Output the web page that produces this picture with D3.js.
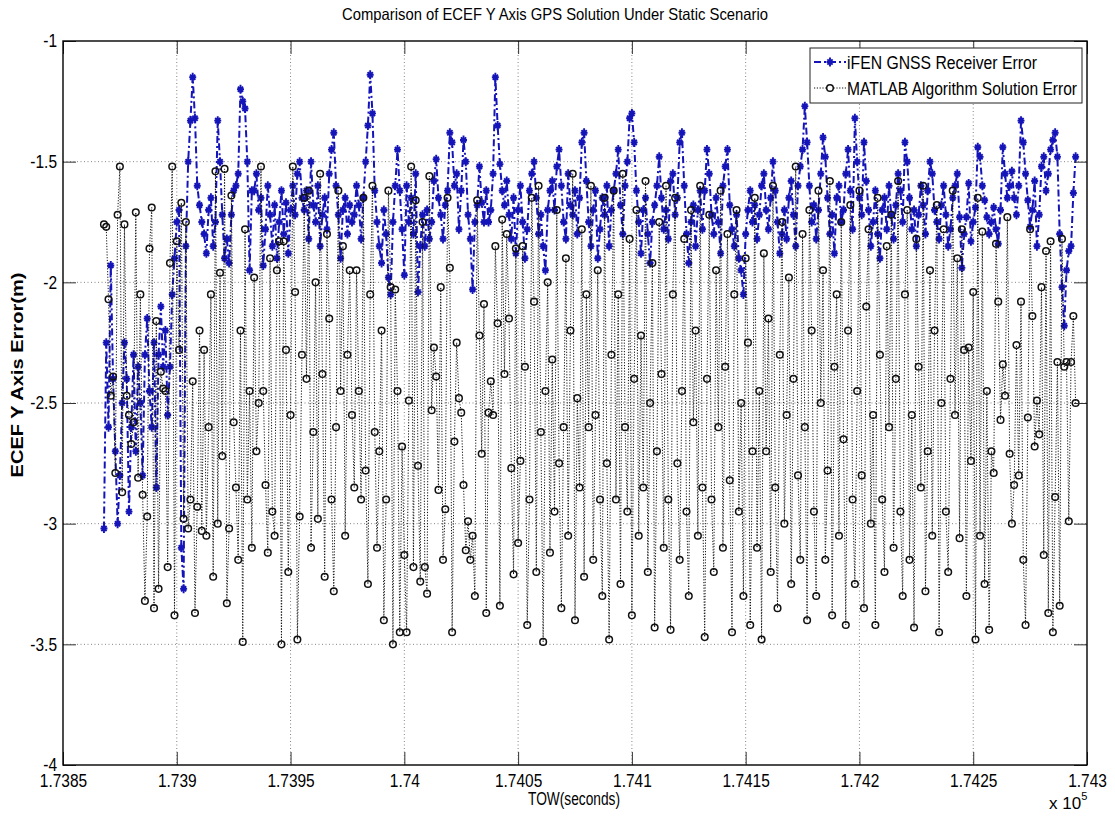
<!DOCTYPE html>
<html>
<head>
<meta charset="utf-8">
<script src="https://cdn.jsdelivr.net/npm/d3@7"></script>
<style>
body { margin: 0; background: #fff; }
text { font-family: "Liberation Sans", Arial, sans-serif; fill: #000; }
</style>
</head>
<body>
<div id="chart"></div>
<script>
// first sample TOW, one solution per second
var startTOW = 173868;
var xTicks = [173850, 173900, 173950, 174000, 174050, 174100, 174150, 174200, 174250, 174300];
var yTicks = [-4, -3.5, -3, -2.5, -2, -1.5, -1];
var seriesNames = ["iFEN GNSS Receiver Error", "MATLAB Algorithm Solution Error"];

// iFEN receiver error (m)
var ifenErr = [
  -3.02,-2.25,-2.6,-1.93,-2.4,-2.7,-3.0,-2.8,-2.5,-2.25,-2.4,-2.95,-2.6,-2.3,-2.7,-2.35,-2.5,-2.8,-2.3,-2.15,-2.45,-2.6,
  -2.25,-2.85,-2.3,-2.1,-2.35,-2.2,-2.55,-2.35,-2.05,-1.9,-1.75,-1.7,-3.1,-3.27,-1.85,-1.5,-1.33,-1.15,-1.32,-1.6,-1.68,-1.75,
  -1.8,-1.88,-1.7,-1.65,-1.85,-1.75,-1.33,-1.5,-1.72,-1.9,-1.82,-1.92,-1.72,-1.62,-1.6,-1.55,-1.2,-1.25,-1.28,-1.5,-1.95,-1.62,
  -1.62,-1.55,-1.7,-1.65,-1.93,-1.78,-1.6,-1.72,-1.85,-1.68,-1.9,-1.75,-1.62,-1.8,-1.67,-1.88,-1.7,-1.6,-1.72,-1.55,-1.5,-1.65,
  -1.7,-1.62,-1.82,-1.5,-1.68,-1.75,-1.6,-1.85,-1.72,-1.65,-1.78,-1.55,-1.45,-1.38,-1.6,-1.72,-1.9,-1.7,-1.65,-1.8,-1.68,-1.75,
  -1.72,-1.6,-1.68,-1.82,-1.65,-1.5,-1.35,-1.14,-1.3,-1.62,-1.75,-1.85,-1.92,-1.7,-1.8,-1.98,-2.05,-1.75,-1.6,-1.45,-1.62,-1.78,
  -1.97,-1.6,-1.75,-1.65,-1.8,-1.55,-2.04,-1.85,-1.72,-1.85,-1.7,-1.82,-1.75,-1.58,-1.49,-1.65,-1.72,-1.82,-1.68,-1.62,-1.38,-1.42,
  -1.6,-1.55,-1.78,-1.62,-1.41,-1.5,-1.72,-1.82,-2.03,-1.75,-1.68,-1.52,-1.67,-1.75,-1.62,-1.75,-1.7,-1.55,-1.15,-1.35,-1.51,-1.62,
  -1.68,-1.58,-1.72,-1.82,-1.65,-1.88,-1.7,-1.6,-1.75,-1.9,-1.78,-1.62,-1.55,-1.5,-1.65,-1.8,-1.72,-1.85,-1.95,-1.7,-1.62,-1.58,
  -1.7,-1.52,-1.45,-1.6,-1.75,-1.82,-1.55,-1.68,-1.72,-1.62,-1.8,-1.65,-1.42,-1.38,-1.58,-1.75,-1.85,-1.7,-1.62,-1.9,-1.78,-1.65,
  -1.72,-1.6,-1.85,-1.7,-1.62,-1.55,-1.45,-1.68,-1.8,-1.6,-1.5,-1.32,-1.3,-1.42,-1.62,-1.75,-1.88,-1.7,-1.65,-1.8,-1.92,-1.75,
  -1.68,-1.6,-1.48,-1.65,-1.78,-1.7,-1.82,-1.58,-1.55,-1.72,-1.65,-1.42,-1.38,-1.6,-1.8,-1.92,-1.75,-1.68,-1.85,-1.7,-1.62,-1.78,
  -1.62,-1.45,-1.55,-1.72,-1.8,-1.65,-1.75,-1.88,-1.6,-1.52,-1.45,-1.68,-1.78,-1.85,-1.72,-1.9,-1.95,-2.05,-1.8,-1.7,-1.62,-1.75,
  -1.68,-1.82,-1.72,-1.6,-1.55,-1.7,-1.78,-1.65,-1.5,-1.62,-1.75,-1.88,-1.8,-1.7,-1.82,-1.65,-1.58,-1.72,-1.85,-1.6,-1.52,-1.45,
  -1.27,-1.42,-1.6,-1.75,-1.68,-1.82,-1.7,-1.55,-1.4,-1.48,-1.65,-1.8,-1.72,-1.88,-1.65,-1.6,-1.75,-1.7,-1.55,-1.45,-1.62,-1.78,
  -1.32,-1.5,-1.65,-1.72,-1.42,-1.58,-1.7,-1.85,-1.75,-1.62,-1.8,-1.9,-1.7,-1.65,-1.78,-1.6,-1.72,-1.82,-1.68,-1.55,-1.62,-1.75,
  -1.42,-1.5,-1.65,-1.78,-1.7,-1.85,-1.72,-1.6,-1.68,-1.8,-1.62,-1.5,-1.55,-1.7,-1.75,-1.82,-1.68,-1.6,-1.72,-1.85,-1.78,-1.65,
  -1.6,-1.55,-1.73,-1.94,-1.8,-1.73,-1.59,-1.83,-1.75,-1.69,-1.44,-1.48,-1.6,-1.66,-1.73,-1.8,-1.75,-1.69,-1.78,-1.84,-1.7,-1.44,
  -1.55,-1.65,-1.6,-1.54,-1.65,-1.72,-1.6,-1.33,-1.42,-1.55,-1.66,-1.77,-1.7,-1.58,-1.85,-1.72,-1.52,-1.48,-1.62,-1.55,-1.45,-1.41,
  -1.38,-1.48,-1.8,-2.02,-2.18,-1.95,-1.87,-1.85,-1.63,-1.48
];

// MATLAB algorithm solution error (m)
var matlabErr = [
  -1.76,-1.77,-2.07,-2.47,-2.39,-2.79,-1.72,-1.52,-2.87,-1.76,-2.47,-2.55,-2.67,-2.58,-1.71,-2.81,-2.05,-2.88,-3.32,-2.97,-1.86,-1.69,
  -3.35,-2.16,-3.27,-2.37,-2.44,-2.45,-3.18,-1.92,-1.52,-3.38,-1.83,-2.28,-1.67,-2.98,-1.75,-3.02,-2.9,-2.41,-3.37,-2.93,-2.2,-3.03,
  -2.28,-3.05,-2.6,-2.05,-3.22,-1.54,-3.0,-1.96,-2.72,-1.53,-3.33,-3.02,-1.64,-2.58,-2.85,-3.15,-2.2,-3.49,-1.78,-2.9,-2.45,-3.1,
  -1.98,-2.7,-2.5,-1.52,-2.45,-2.84,-3.12,-1.9,-2.95,-3.05,-1.95,-1.83,-3.5,-1.83,-2.28,-3.2,-2.55,-1.52,-2.04,-3.48,-2.97,-2.3,
  -1.65,-2.4,-1.62,-3.1,-2.62,-2.0,-2.98,-1.55,-2.38,-3.22,-1.8,-2.15,-2.9,-3.28,-2.6,-1.62,-2.45,-1.85,-3.05,-2.3,-1.95,-2.55,
  -2.85,-1.95,-2.45,-2.9,-1.65,-2.78,-3.25,-2.05,-1.6,-2.62,-3.1,-2.7,-2.2,-3.4,-2.9,-1.62,-2.02,-3.5,-2.03,-2.45,-3.45,-2.68,
  -3.13,-3.45,-2.49,-1.52,-3.18,-1.66,-2.76,-3.24,-1.75,-3.18,-3.29,-1.56,-2.53,-2.27,-2.39,-2.86,-2.02,-3.15,-2.94,-1.65,-1.94,-3.45,
  -2.66,-2.25,-2.48,-2.54,-2.84,-3.11,-2.99,-3.15,-3.05,-3.3,-1.66,-2.22,-2.71,-2.09,-3.37,-2.54,-2.41,-2.55,-1.85,-2.17,-3.34,-1.74,
  -2.38,-1.8,-2.15,-2.77,-3.21,-1.86,-3.08,-2.74,-1.85,-2.35,-3.42,-2.9,-1.65,-2.08,-3.2,-1.6,-2.62,-3.49,-2.45,-2.0,-3.12,-2.32,
  -2.95,-1.7,-2.75,-3.35,-2.6,-1.9,-3.05,-2.2,-1.55,-3.4,-2.48,-2.85,-1.78,-3.22,-2.05,-2.6,-1.6,-3.15,-2.55,-1.95,-2.9,-3.3,
  -1.65,-2.75,-3.48,-2.3,-1.62,-2.9,-2.05,-3.25,-1.55,-2.6,-2.95,-1.82,-3.38,-2.4,-1.7,-3.05,-2.22,-2.85,-1.58,-3.2,-2.5,-1.92,
  -3.43,-2.7,-1.75,-2.38,-3.1,-1.6,-2.9,-3.44,-2.05,-1.65,-2.75,-3.15,-2.45,-1.82,-2.95,-3.3,-1.7,-2.58,-2.2,-3.05,-1.6,-2.85,
  -3.47,-2.4,-1.72,-2.9,-3.2,-1.95,-2.6,-1.62,-3.1,-2.35,-1.8,-2.82,-3.45,-2.05,-1.7,-2.95,-2.5,-3.3,-1.9,-2.25,-3.42,-2.7,
  -1.65,-3.1,-2.45,-3.48,-1.88,-2.7,-2.15,-3.2,-1.6,-2.85,-3.35,-2.3,-1.75,-3.0,-2.55,-1.98,-3.25,-2.4,-1.52,-2.8,-3.15,-1.8,
  -2.6,-3.4,-1.7,-2.2,-2.95,-3.3,-1.62,-2.5,-1.95,-3.15,-2.78,-1.58,-3.38,-2.35,-2.05,-3.05,-1.75,-2.65,-3.42,-2.2,-1.68,-2.9,
  -3.25,-2.45,-1.62,-2.8,-3.35,-2.1,-1.78,-3.0,-2.55,-3.42,-1.65,-2.3,-2.9,-3.2,-1.85,-2.6,-1.72,-3.1,-2.4,-1.58,-2.95,-3.3,
  -2.05,-1.7,-3.15,-2.55,-3.43,-1.82,-2.35,-2.85,-1.6,-3.28,-2.7,-1.95,-3.05,-2.2,-1.68,-3.45,-2.5,-1.78,-2.95,-3.2,-2.4,-1.62,
  -2.55,-1.9,-3.06,-1.78,-2.28,-3.3,-2.27,-2.74,-2.04,-3.48,-1.65,-3.05,-1.79,-3.25,-2.45,-3.44,-2.7,-2.79,-1.84,-2.08,-2.57,-2.34,
  -2.47,-1.73,-2.71,-3.0,-2.84,-2.26,-2.8,-2.08,-3.15,-3.42,-2.56,-1.78,-2.14,-2.68,-2.49,-2.63,-2.02,-3.13,-1.87,-3.37,-1.83,-3.45,
  -2.89,-2.33,-3.34,-1.82,-2.35,-2.33,-2.99,-2.33,-2.14,-2.5
];

var margin = {top: 41, right: 28, bottom: 57, left: 63},
    width = 1115 - margin.left - margin.right,
    height = 822 - margin.top - margin.bottom;

var blue = "#1414b8";

var svgRoot = d3.select("#chart")
  .append("svg")
    .attr("width", 1115)
    .attr("height", 822)
    .style("background", "#fff");

var svg = svgRoot.append("g")
    .attr("transform", "translate(" + margin.left + "," + margin.top + ")");

var x = d3.scaleLinear()
  .domain([xTicks[0], xTicks[xTicks.length - 1]])
  .range([0, width]);

var y = d3.scaleLinear()
  .domain([yTicks[0], yTicks[yTicks.length - 1]])
  .range([height, 0]);

var ifenData = ifenErr.map(function(v, i) { return {t: startTOW + i, v: v}; });
var matlabData = matlabErr.map(function(v, i) { return {t: startTOW + i, v: v}; });

// squeeze text a bit, the original font is narrow
function squeeze(sel, k) {
  sel.each(function() {
    var w = this.getComputedTextLength();
    d3.select(this).attr("textLength", w * k).attr("lengthAdjust", "spacingAndGlyphs");
  });
}
function fitTo(sel, w) {
  sel.attr("textLength", w).attr("lengthAdjust", "spacingAndGlyphs");
}

// grid
svg.append("g")
  .selectAll("line")
  .data(xTicks.slice(1, -1))
  .enter().append("line")
    .attr("x1", function(d) { return x(d); })
    .attr("x2", function(d) { return x(d); })
    .attr("y1", 0)
    .attr("y2", height)
    .attr("stroke", "#777")
    .attr("stroke-width", 0.9)
    .attr("stroke-dasharray", "1,2.5");

svg.append("g")
  .selectAll("line")
  .data(yTicks.slice(1, -1))
  .enter().append("line")
    .attr("y1", function(d) { return y(d); })
    .attr("y2", function(d) { return y(d); })
    .attr("x1", 0)
    .attr("x2", width)
    .attr("stroke", "#777")
    .attr("stroke-width", 0.9)
    .attr("stroke-dasharray", "1,2.5");

var line = d3.line()
  .x(function(d) { return x(d.t); })
  .y(function(d) { return y(d.v); });

var starPath = "M-3.5,0H3.5M0,-4.5V4.5M-2.6,-2.6L2.6,2.6M-2.6,2.6L2.6,-2.6";

// iFEN series
svg.append("path")
  .datum(ifenData)
  .attr("fill", "none")
  .attr("stroke", blue)
  .attr("stroke-width", 2)
  .attr("stroke-dasharray", "7,3,2,3")
  .attr("d", line);

svg.append("g")
  .selectAll("path")
  .data(ifenData)
  .enter().append("path")
    .attr("transform", function(d) { return "translate(" + x(d.t) + "," + y(d.v) + ")"; })
    .attr("d", starPath)
    .attr("stroke", blue)
    .attr("stroke-width", 1.9)
    .attr("fill", "none");

// MATLAB series
svg.append("path")
  .datum(matlabData)
  .attr("fill", "none")
  .attr("stroke", "#111")
  .attr("stroke-width", 1)
  .attr("stroke-dasharray", "1.2,1.6")
  .attr("d", line);

svg.append("g")
  .selectAll("circle")
  .data(matlabData)
  .enter().append("circle")
    .attr("cx", function(d) { return x(d.t); })
    .attr("cy", function(d) { return y(d.v); })
    .attr("r", 3.3)
    .attr("fill", "none")
    .attr("stroke", "#111")
    .attr("stroke-width", 1.5);

// axes: ticks inside on all four sides
var xAxis = svg.append("g")
  .attr("transform", "translate(0," + height + ")")
  .call(d3.axisBottom(x)
    .tickValues(xTicks)
    .tickSizeInner(-13)
    .tickSizeOuter(0)
    .tickPadding(8)
    .tickFormat(function(d) { return String(+(d / 1e5).toFixed(5)); }));

svg.append("g")
  .call(d3.axisTop(x).tickValues(xTicks).tickSizeInner(-13).tickSizeOuter(0).tickFormat(""));

var yAxis = svg.append("g")
  .call(d3.axisLeft(y)
    .tickValues(yTicks)
    .tickSizeInner(-13)
    .tickSizeOuter(0)
    .tickPadding(6)
    .tickFormat(function(d) { return String(d); }));

svg.append("g")
  .attr("transform", "translate(" + width + ",0)")
  .call(d3.axisRight(y).tickValues(yTicks).tickSizeInner(-13).tickSizeOuter(0).tickFormat(""));

svg.selectAll(".domain").remove();
svg.selectAll(".tick line").attr("stroke", "#333").attr("stroke-width", 1);

svg.selectAll(".tick text")
  .style("font-size", "18px")
  .attr("fill", "#000");
xAxis.selectAll(".tick text").attr("dy", "0.78em");
squeeze(svg.selectAll(".tick text"), 0.86);

// box
svg.append("rect")
  .attr("width", width)
  .attr("height", height)
  .attr("fill", "none")
  .attr("stroke", "#000")
  .attr("stroke-width", 1.4);

// title and labels
fitTo(svgRoot.append("text")
  .attr("x", 555)
  .attr("y", 20)
  .attr("text-anchor", "middle")
  .style("font-size", "16.5px")
  .text("Comparison of ECEF Y Axis GPS Solution Under Static Scenario"), 426);

fitTo(svgRoot.append("text")
  .attr("x", 574)
  .attr("y", 805)
  .attr("text-anchor", "middle")
  .style("font-size", "17.5px")
  .text("TOW(seconds)"), 92);

var expo = svgRoot.append("text")
  .attr("x", 1049)
  .attr("y", 809)
  .style("font-size", "17px");
expo.append("tspan").text("x 10");
expo.append("tspan").attr("dy", -9).style("font-size", "11px").text("5");

fitTo(svgRoot.append("text")
  .attr("transform", "translate(23,375) rotate(-90)")
  .attr("text-anchor", "middle")
  .style("font-size", "16px")
  .style("font-weight", "bold")
  .text("ECEF Y Axis Error(m)"), 205);

// legend
var legend = svgRoot.append("g");
legend.append("rect")
  .attr("x", 810).attr("y", 48)
  .attr("width", 272).attr("height", 55)
  .attr("fill", "#fff")
  .attr("stroke", "#222")
  .attr("stroke-width", 1);

legend.append("line")
  .attr("x1", 814).attr("x2", 846).attr("y1", 62).attr("y2", 62)
  .attr("stroke", blue).attr("stroke-width", 2)
  .attr("stroke-dasharray", "7,3,2,3");
legend.append("path")
  .attr("transform", "translate(830,62)")
  .attr("d", starPath)
  .attr("stroke", blue).attr("stroke-width", 1.9).attr("fill", "none");

legend.append("line")
  .attr("x1", 814).attr("x2", 846).attr("y1", 88).attr("y2", 88)
  .attr("stroke", "#111").attr("stroke-width", 1)
  .attr("stroke-dasharray", "1.2,1.6");
legend.append("circle")
  .attr("cx", 830).attr("cy", 88).attr("r", 3.3)
  .attr("fill", "#fff").attr("stroke", "#111").attr("stroke-width", 1.5);

fitTo(legend.append("text")
  .attr("x", 847).attr("y", 69)
  .style("font-size", "18px")
  .text(seriesNames[0]), 190);
fitTo(legend.append("text")
  .attr("x", 847).attr("y", 95)
  .style("font-size", "18px")
  .text(seriesNames[1]), 230);
</script>
</body>
</html>
